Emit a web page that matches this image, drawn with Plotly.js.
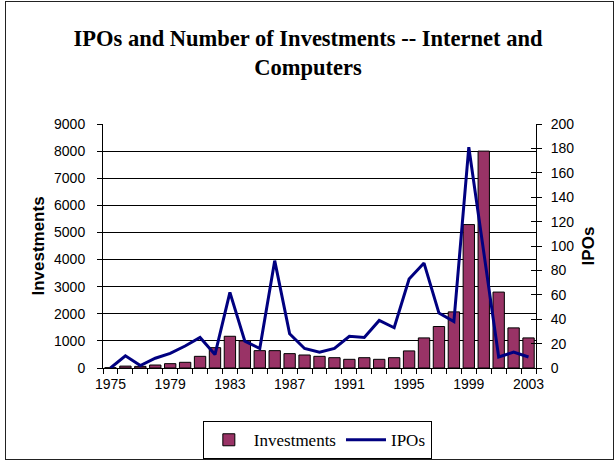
<!DOCTYPE html>
<html>
<head>
<meta charset="utf-8">
<script src="https://cdn.plot.ly/plotly-3.0.1.min.js"></script>
<style>
  html, body { margin: 0; padding: 0; background: #fff; }
  #wrap { position: relative; width: 616px; height: 461px; }
  #chart { width: 616px; height: 461px; }
  #frame { position: absolute; left: 5px; top: 1px; width: 607px; height: 457px;
           border: 1px solid #222; pointer-events: none; }
</style>
</head>
<body>
<div id="wrap">
  <div id="chart"></div>
  <div id="frame"></div>
</div>
<script>
const years = [1975,1976,1977,1978,1979,1980,1981,1982,1983,1984,1985,1986,1987,1988,1989,
               1990,1991,1992,1993,1994,1995,1996,1997,1998,1999,2000,2001,2002,2003];
const investments = [10,70,60,110,160,210,430,750,1170,1000,640,640,530,480,430,
                     380,320,380,320,380,630,1110,1530,2070,5290,8000,2800,1480,1110];
const ipos = [0,10,2,8,12,18,25,11,62,22,16,88,28,16,13,
              16,26,25,39,33,73,86,45,38,181,97,9,13,9];
const xTickVals = [1975,1979,1983,1987,1991,1995,1999,2003];
const xTickText = ["1975","1979","1983","1987","1991","1995","1999","2003"];

const sans = 'Liberation Sans, Arial, sans-serif';
const serif = 'Liberation Serif, Times New Roman, serif';

const traces = [
  {
    type: 'bar', name: 'Investments', x: years, y: investments,
    marker: { color: '#993366', line: { color: '#000', width: 1 } },
    width: 0.76, yaxis: 'y'
  },
  {
    type: 'scatter', mode: 'lines', name: 'IPOs', x: years, y: ipos,
    line: { color: '#000080', width: 3 }, yaxis: 'y2'
  },
  { type: 'scatter', mode: 'none', x: [years[0]], y: [0], yaxis: 'y3', showlegend: false, hoverinfo: 'skip' }
];

const layout = {
  width: 616, height: 461,
  margin: { l: 103, r: 80, t: 124, b: 93, autoexpand: false },
  paper_bgcolor: '#fff', plot_bgcolor: '#fff',
  showlegend: true,
  title: {
    text: 'IPOs and Number of Investments -- Internet and<br>Computers',
    font: { family: serif, size: 22.5, color: '#000', weight: 'bold' },
    x: 0.5, xanchor: 'center', xref: 'container',
    y: 0.9, yanchor: 'middle', yref: 'container'
  },
  xaxis: {
    range: [1974.5, 2003.5],
    tickmode: 'array', tickvals: xTickVals, ticktext: xTickText,
    ticks: '', showgrid: false, zeroline: false,
    showline: true, linecolor: '#000', linewidth: 1,
    ticklabelstandoff: 3,
    tickfont: { family: sans, size: 14, color: '#000' },
    minor: { ticks: 'outside', tick0: 1974.5, dtick: 1, ticklen: 5, tickcolor: '#000', tickwidth: 1, showgrid: false }
  },
  yaxis: {
    range: [0, 9000], dtick: 1000, tick0: 0,
    showgrid: true, gridcolor: '#000', gridwidth: 1,
    zeroline: false, showline: true, linecolor: '#000', linewidth: 1,
    ticks: 'outside', ticklen: 5, tickcolor: '#000',
    ticklabelstandoff: 9,
    tickfont: { family: sans, size: 14, color: '#000' },
    title: { text: 'Investments', standoff: 5,
             font: { family: sans, size: 17, color: '#000', weight: 'bold' } }
  },
  yaxis2: {
    range: [0, 200], dtick: 20, tick0: 0, overlaying: 'y', side: 'right',
    showgrid: false, zeroline: false, showline: true, linecolor: '#000', linewidth: 1,
    ticks: 'outside', ticklen: 5, tickcolor: '#000',
    ticklabelstandoff: 6,
    tickfont: { family: sans, size: 14, color: '#000' },
    title: { text: 'IPOs', standoff: 8,
             font: { family: sans, size: 17, color: '#000', weight: 'bold' } }
  },
  yaxis3: {
    range: [0, 200], dtick: 20, tick0: 0, overlaying: 'y', side: 'right',
    showgrid: false, zeroline: false, showline: false,
    ticks: 'inside', ticklen: 5, tickcolor: '#000', showticklabels: false
  },
  legend: {
    orientation: 'h', x: 0.495, xanchor: 'center', y: -0.296, yanchor: 'middle',
    bordercolor: '#000', borderwidth: 1, bgcolor: '#fff',
    font: { family: serif, size: 17, color: '#000' },
    itemwidth: 40, traceorder: 'normal'
  }
};

Plotly.newPlot('chart', traces, layout, { displayModeBar: false, staticPlot: true });
</script>
</body>
</html>
